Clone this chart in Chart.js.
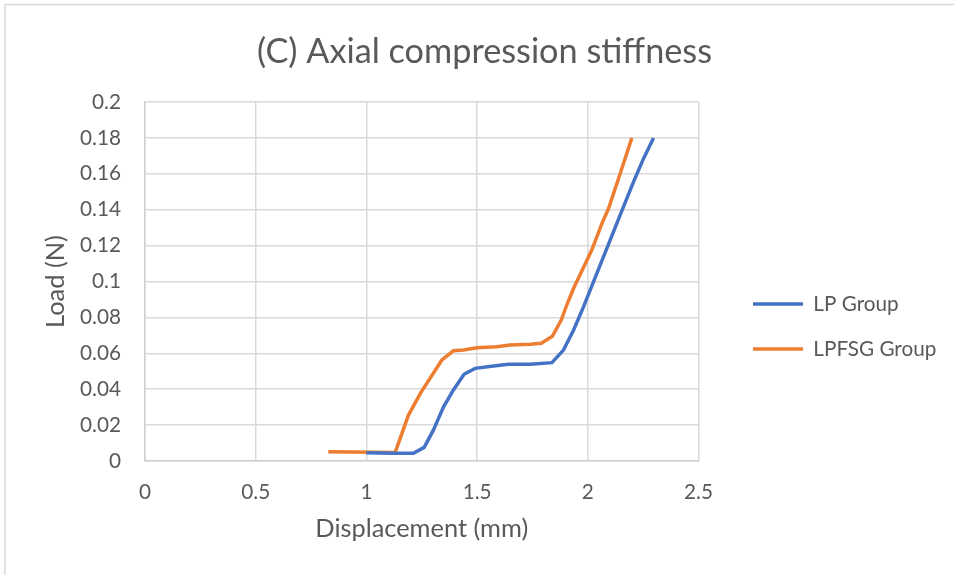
<!DOCTYPE html>
<html>
<head>
<meta charset="utf-8">
<script src="https://cdn.jsdelivr.net/npm/chart.js@4"></script>
<style>
  html, body { margin: 0; padding: 0; background: #ffffff; }
  #wrap { width: 954px; height: 575px; }
</style>
</head>
<body>
<div id="wrap"><canvas id="c" width="954" height="575"></canvas></div>
<script>
// ---- data ----
const chartTitle = "(C) Axial compression stiffness";
const xTitle = "Displacement (mm)";
const yTitle = "Load (N)";
const seriesNames = ["LP Group", "LPFSG Group"];

const lpX = [1.00, 1.115, 1.212, 1.261, 1.303, 1.348, 1.393, 1.441, 1.491, 1.574, 1.642, 1.74, 1.838, 1.89, 1.936, 1.981, 2.026, 2.086, 2.146, 2.207, 2.252, 2.297];
const lpY = [0.0046, 0.0043, 0.0043, 0.0076, 0.0173, 0.030, 0.0396, 0.0483, 0.0516, 0.0529, 0.0539, 0.0539, 0.0548, 0.0618, 0.073, 0.086, 0.0999, 0.1185, 0.137, 0.1556, 0.1686, 0.18];

const lpfsgX = [0.828, 1.13, 1.19, 1.245, 1.341, 1.393, 1.438, 1.499, 1.589, 1.649, 1.74, 1.79, 1.84, 1.88, 1.905, 1.936, 1.981, 2.018, 2.064, 2.094, 2.146, 2.199];
const lpfsgY = [0.0052, 0.0048, 0.0256, 0.038, 0.0563, 0.0614, 0.0618, 0.0631, 0.0637, 0.0646, 0.065, 0.0656, 0.0695, 0.0785, 0.0869, 0.0962, 0.108, 0.1175, 0.1324, 0.1408, 0.160, 0.180];

const xTicks = [0, 0.5, 1, 1.5, 2, 2.5];
const yTicks = [0, 0.02, 0.04, 0.06, 0.08, 0.1, 0.12, 0.14, 0.16, 0.18, 0.2];

// ---- styling ----
const FONT = "Lato";
const TXT = "#595959";
const GRID = "#d9d9d9";

// font size chosen so a text has a given rendered width
const mctx = document.createElement("canvas").getContext("2d");
function fitSize(text, width) {
  mctx.font = "100px " + FONT;
  return 100 * width / mctx.measureText(text).width;
}
const titleFs = fitSize(chartTitle, 455);
const axisFs = fitSize(xTitle, 213);
const tickFs = fitSize("0.18", 41);
const legendFs = fitSize(seriesNames[1], 123);
const LH = 1.2;

const PLOT_TOP = 102, PLOT_BOTTOM = 461, PLOT_LEFT = 145, PLOT_RIGHT = 698.5;
const LEGEND_MAXW = 180;

const toPts = (xs, ys) => xs.map((x, i) => ({ x: x, y: ys[i] }));

const frame = {
  id: "frame",
  beforeDraw(chart) {
    const ctx = chart.ctx;
    ctx.save();
    ctx.fillStyle = "#ffffff";
    ctx.fillRect(0, 0, chart.width, chart.height);
    ctx.strokeStyle = "#d9d9d9";
    ctx.lineWidth = 1.5;
    ctx.beginPath();
    ctx.moveTo(5, chart.height + 5);
    ctx.lineTo(5, 4.5);
    ctx.lineTo(chart.width + 5, 4.5);
    ctx.stroke();
    ctx.restore();
  }
};

const placeBlocks = {
  id: "placeBlocks",
  afterLayout(chart) {
    const lg = chart.legend;
    if (lg) {
      const pad = lg.options.labels.padding;
      const h = lg.bottom - lg.top;
      lg.left = 753 - pad; lg.right = chart.width;
      lg.width = lg.right - lg.left;
      lg.top = 304 - legendFs / 2 - pad; lg.bottom = lg.top + h;
    }
    const tb = chart.titleBlock;
    if (tb) { tb.left = 15; tb.right = chart.width; }
  }
};

new Chart(document.getElementById("c"), {
  type: "scatter",
  data: {
    datasets: [
      {
        label: seriesNames[0],
        data: toPts(lpX, lpY),
        showLine: true,
        borderColor: "#4472C4",
        backgroundColor: "#4472C4",
        borderWidth: 3.5,
        pointRadius: 0,
        tension: 0
      },
      {
        label: seriesNames[1],
        data: toPts(lpfsgX, lpfsgY),
        showLine: true,
        borderColor: "#ED7D31",
        backgroundColor: "#ED7D31",
        borderWidth: 3.5,
        pointRadius: 0,
        tension: 0
      }
    ]
  },
  options: {
    responsive: false,
    animation: false,
    devicePixelRatio: 1,
    layout: { padding: { top: 0, left: 0, right: 954 - PLOT_RIGHT - LEGEND_MAXW, bottom: 0 } },
    plugins: {
      title: {
        display: true,
        text: chartTitle,
        color: TXT,
        font: { family: FONT, size: titleFs, weight: "normal", lineHeight: LH },
        padding: { top: 52 - titleFs * LH / 2, bottom: PLOT_TOP - 52 - titleFs * LH / 2 }
      },
      legend: {
        display: true,
        position: "right",
        align: "start",
        maxWidth: LEGEND_MAXW,
        labels: {
          color: TXT,
          font: { family: FONT, size: legendFs, lineHeight: LH },
          boxWidth: 50,
          boxHeight: 0,
          padding: 45 - legendFs
        }
      },
      tooltip: { enabled: false }
    },
    scales: {
      x: {
        type: "linear",
        min: 0,
        max: 2.5,
        afterBuildTicks: s => { s.ticks = xTicks.map(v => ({ value: v })); },
        afterFit: s => { s.height = 575 - PLOT_BOTTOM; },
        grid: { color: GRID, lineWidth: 1.5, drawTicks: false },
        border: { color: "#d0d0d0", width: 1.5 },
        ticks: {
          color: TXT,
          padding: 492.5 - PLOT_BOTTOM - tickFs * LH / 2,
          font: { family: FONT, size: tickFs, lineHeight: LH },
          callback: v => String(v)
        },
        title: {
          display: true,
          text: xTitle,
          color: TXT,
          font: { family: FONT, size: axisFs, lineHeight: LH },
          padding: { top: 0, bottom: 575 - 529 - axisFs * LH / 2 }
        }
      },
      y: {
        type: "linear",
        min: 0,
        max: 0.2,
        afterBuildTicks: s => { s.ticks = yTicks.map(v => ({ value: v })); },
        afterFit: s => { s.width = PLOT_LEFT; },
        grid: { color: GRID, lineWidth: 1.5, drawTicks: false },
        border: { color: "#d0d0d0", width: 1.5 },
        ticks: {
          color: TXT,
          padding: 24,
          font: { family: FONT, size: tickFs, lineHeight: LH },
          callback: v => String(Number(v.toFixed(2)))
        },
        title: {
          display: true,
          text: yTitle,
          color: TXT,
          font: { family: FONT, size: axisFs, lineHeight: LH },
          padding: { top: 56 - axisFs * LH / 2, bottom: 0 }
        }
      }
    }
  },
  plugins: [frame, placeBlocks]
});
</script>
</body>
</html>
